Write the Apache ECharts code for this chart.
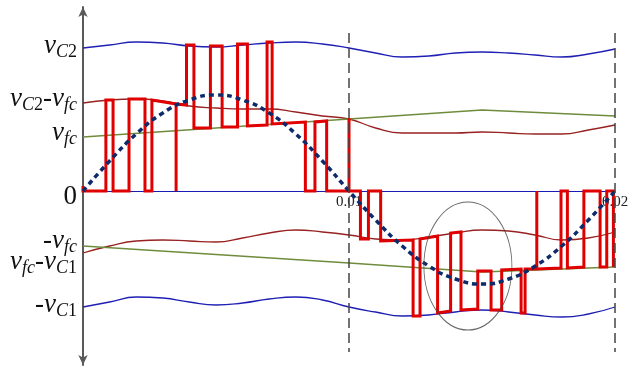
<!DOCTYPE html>
<html lang="en">
<head>
    <meta charset="UTF-8">
    <title>PWM output with capacitor voltages</title>
    <style>
        html,body{margin:0;padding:0;background:#fff;}
        #container{width:633px;height:368px;}
    </style>
    <script src="https://cdn.jsdelivr.net/npm/echarts@6/dist/echarts.min.js"></script>
</head>
<body>
<div id="container"></div>
<script type="text/javascript">
    // sample instants (s) for the slow curves
    var times = [0, 0.001, 0.002, 0.003, 0.004, 0.005, 0.006, 0.007, 0.008, 0.009, 0.010,
        0.011, 0.012, 0.013, 0.014, 0.015, 0.016, 0.017, 0.018, 0.019, 0.020];

    // capacitor voltages
    var vC2 = [143, 146, 149, 148, 145, 144, 146, 148, 149, 147, 143, 138, 134, 135, 138, 139, 138, 136, 134, 137, 142];
    var negVC1 = [-116, -111, -106, -107, -111, -114, -112, -108, -106, -109, -116, -121, -125, -124, -121, -119, -121, -124, -126, -123, -116];
    var vC2MinusVfc = [88, 91, 92, 90, 85, 83, 82, 82, 79, 75, 72, 63, 58, 58, 58, 59, 58, 57, 57, 61, 66];
    var vfcMinusVC1 = [-62, -55, -50, -49, -50, -51, -47, -42, -39, -41, -44, -48, -49, -46, -42, -39, -40, -44, -49, -47, -41];

    // flying capacitor voltage (almost straight)
    var vfcTimes = [0, 0.01, 0.015, 0.02];
    var vfc = [54, 72, 81, 75];
    var negVfc = [-55, -72, -81, -76];

    // reference sine (dotted)
    var reference = [0, 30, 57, 78, 91, 96, 91, 78, 57, 30, 0, -29, -55, -75, -88, -93, -88, -75, -55, -29, 0];

    // switched output voltage: corners [t, v]
    var pwm = [
        [0, 5], [0, 0], [0.00086, 0], [0.00086, 91], [0.00113, 91], [0.00113, 0],
        [0.00173, 0], [0.00173, 92], [0.00233, 92], [0.00233, 0],
        [0.00259, 0], [0.00259, 91], [0.0035, 87], [0.0035, 0], [0.0035, 87], [0.00389, 86],
        [0.00389, 146], [0.00417, 146], [0.00417, 63],
        [0.00479, 63], [0.00479, 145], [0.00523, 145], [0.00523, 64],
        [0.00581, 64], [0.00581, 147], [0.00618, 147], [0.00618, 65],
        [0.00692, 66], [0.00692, 149], [0.00711, 149], [0.00711, 67],
        [0.00836, 69], [0.00836, 0], [0.00872, 0], [0.00872, 69], [0.00916, 70], [0.00916, 0],
        [0.01, 0], [0.01, 73], [0.01, 0], [0.01043, 0], [0.01043, -48], [0.01073, -48], [0.01073, 0],
        [0.01119, 0], [0.01119, -50], [0.01241, -49], [0.01241, -125], [0.01267, -125],
        [0.01267, -48], [0.01333, -45], [0.01333, -122], [0.01382, -120], [0.01382, -42],
        [0.01421, -41], [0.01421, -119], [0.01484, -118], [0.01484, -80], [0.01534, -80],
        [0.01534, -119], [0.01574, -119], [0.01574, -79], [0.01647, -78], [0.01647, -122],
        [0.01662, -122], [0.01662, -78], [0.01706, -78], [0.01706, 0], [0.01706, -78],
        [0.01797, -77], [0.01797, 0], [0.01821, 0], [0.01821, -77], [0.01883, -76], [0.01883, 0],
        [0.01944, 0], [0.01944, -76], [0.01969, -76], [0.01969, 0], [0.01994, 0], [0.01994, -76]
    ];

    // y tick labels
    var yLabelPos = [145, 92, 58, -6, -50, -71, -114];
    var yLabelText = [
        '{v|v}{s|C}{n|2}',
        '{v|v}{s|C}{n|2}{m|-}{v|v}{s|fc}',
        '{v|v}{s|fc}',
        '{z|0}',
        '{m|-}{v|v}{s|fc}',
        '{v|v}{s|fc}{m|-}{v|v}{s|C}{n|1}',
        '{m|-}{v|v}{s|C}{n|1}'
    ];
    var xLabelPos = [0.01, 0.02];
    var xLabelText = ['0.01', '0.02'];

    // highlighted region
    var ellipseCenter = [0.01447, -75];

    function zip(xs, ys) {
        return xs.map(function (x, i) { return [x, ys[i]]; });
    }

    var serif = "'Liberation Serif', 'Times New Roman', serif";
    var subPad = [12, 0, 0, 0];
    var yMin = -174, yMax = 184;
    var gridTop = 7, gridBottom = 3;

    function curve(name, data, color, smooth) {
        return {
            name: name, type: 'line', data: data, smooth: smooth,
            symbol: 'none', silent: true, z: 2,
            lineStyle: {color: color, width: 1.3}
        };
    }

    var myChart = echarts.init(document.getElementById('container'));
    var plotHeight = 368 - gridTop - gridBottom;
    // move the time axis up onto v = 0
    var zeroOffset = -plotHeight * (0 - yMin) / (yMax - yMin);

    var option = {
        animation: false,
        backgroundColor: '#fff',
        grid: {left: 83, right: 18, top: gridTop, bottom: gridBottom, outerBoundsMode: 'none', containLabel: false},
        xAxis: {
            type: 'value', min: 0, max: 0.02,
            position: 'bottom',
            offset: zeroOffset,
            splitLine: {show: false},
            axisTick: {show: false},
            axisLine: {onZero: false, lineStyle: {color: '#1a1ab4', width: 1.2}},
            axisLabel: {
                customValues: xLabelPos,
                margin: 4,
                fontFamily: serif, fontSize: 15, color: '#222',
                formatter: function (v) {
                    var i = xLabelPos.indexOf(v);
                    return i < 0 ? '' : xLabelText[i];
                }
            }
        },
        yAxis: {
            type: 'value', min: yMin, max: yMax,
            splitLine: {show: false},
            axisTick: {show: false},
            axisLine: {
                show: true,
                onZero: false,
                symbol: ['arrow', 'arrow'],
                symbolSize: [7, 10],
                lineStyle: {color: '#5a5a5a', width: 2}
            },
            axisLabel: {
                customValues: yLabelPos,
                margin: 6,
                align: 'right',
                color: '#111',
                fontFamily: serif,
                formatter: function (v) {
                    var i = yLabelPos.indexOf(v);
                    return i < 0 ? '' : yLabelText[i];
                },
                rich: {
                    v: {fontFamily: serif, fontSize: 27, fontStyle: 'italic', color: '#111'},
                    s: {fontFamily: serif, fontSize: 18, fontStyle: 'italic', color: '#111', padding: subPad},
                    n: {fontFamily: serif, fontSize: 18, color: '#111', padding: subPad},
                    m: {fontFamily: serif, fontSize: 27, color: '#111'},
                    z: {fontFamily: serif, fontSize: 27, color: '#111'}
                }
            }
        },
        series: [
            curve('vC2', zip(times, vC2), '#1f1fb4', true),
            curve('-vC1', zip(times, negVC1), '#1f1fb4', true),
            curve('vC2-vfc', zip(times, vC2MinusVfc), '#982222', true),
            curve('vfc-vC1', zip(times, vfcMinusVC1), '#982222', true),
            curve('vfc', zip(vfcTimes, vfc), '#6e8c3c', false),
            curve('-vfc', zip(vfcTimes, negVfc), '#6e8c3c', false),
            {
                name: 'output', type: 'line', data: pwm,
                symbol: 'none', silent: true, z: 3,
                lineStyle: {color: '#e00000', width: 3, join: 'miter'}
            },
            {
                name: 'reference', type: 'line', data: zip(times, reference), smooth: true,
                symbol: 'none', silent: true, z: 4,
                lineStyle: {color: '#0d2b6b', width: 3.5, type: [5, 4]}
            },
            {
                name: 'period', type: 'line', data: [], z: 5, silent: true,
                markLine: {
                    symbol: 'none', silent: true,
                    label: {show: false},
                    lineStyle: {color: '#444', width: 1.5, type: [10, 5]},
                    data: [
                        [{coord: [0.01, 158]}, {coord: [0.01, -161]}],
                        [{coord: [0.02, 158]}, {coord: [0.02, -161]}]
                    ]
                }
            },
            {
                name: 'region', type: 'scatter', data: [ellipseCenter], z: 5, silent: true,
                symbol: 'circle', symbolSize: [88, 128],
                itemStyle: {color: 'rgba(0,0,0,0)', borderColor: '#444', borderWidth: 1}
            }
        ]
    };

    myChart.setOption(option);
</script>
</body>
</html>
